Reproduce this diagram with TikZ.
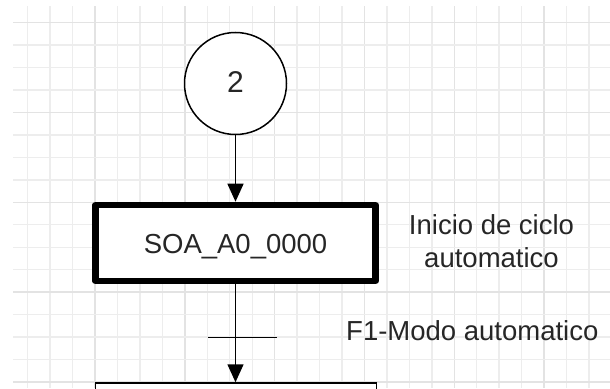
\documentclass[tikz,border=0pt]{standalone}
\usepackage{fontspec}
\setmainfont{Liberation Sans}
\usetikzlibrary{arrows.meta}
\begin{document}
\begin{tikzpicture}[x=1pt,y=-1pt,
  gridminor/.style={draw=black!7,line width=1.4pt},
  gridmajor/.style={draw=black!11,line width=1.4pt},
  label/.style={font=\fontsize{27.5}{33}\selectfont,text=black!85,inner sep=0pt},
  flow/.style={line width=1.5pt,-{Triangle[width=16pt,length=18pt]}},
  connector/.style={draw,circle,line width=1.5pt,minimum size=102pt,inner sep=0pt,fill=white},
  initstep/.style={draw,rectangle,line width=6.6pt,line join=round,minimum width=280pt,minimum height=76pt,inner sep=0pt,fill=white},
  stepbox/.style={draw,rectangle,line width=1.5pt,minimum width=281pt,minimum height=80pt,inner sep=0pt,fill=white},
  bar/.style={line width=1.5pt}]
\useasboundingbox (0,0) rectangle (610,388);
\clip (0,0) rectangle (610,388);
\fill[white] (0,0) rectangle (610,388);
% background grid
\foreach \k in {0,...,25}{
  \pgfmathsetmacro{\gx}{27.7+22.45*\k}
  \pgfmathtruncatemacro{\m}{mod(\k,4)}
  \ifnum\m=3
    \draw[gridmajor] (\gx,6) -- (\gx,388);
  \else
    \draw[gridminor] (\gx,6) -- (\gx,388);
  \fi
}
\foreach \k in {0,...,16}{
  \pgfmathsetmacro{\gy}{22.7+22.45*\k}
  \pgfmathtruncatemacro{\m}{mod(\k,4)}
  \ifnum\m=0
    \draw[gridmajor] (13,\gy) -- (610,\gy);
  \else
    \draw[gridminor] (13,\gy) -- (610,\gy);
  \fi
}
% connector, initial step and next step
\node[connector] (conn) at (235.5,83.5) {};
\node[label,font=\fontsize{30}{36}\selectfont,anchor=base] (connnum) at (235.5,92.3) {2};
\node[initstep] (s0) at (235.5,243) {};
\node[label,anchor=base] (s0txt) at (235.5,253.3) {SOA\_A0\_0000};
\node[stepbox] (s1) at (236,423) {};
% step comment and transition condition
\node[label,align=center,anchor=base] (comment) at (491.5,267.3) {Inicio de ciclo\\automatico};
\node[label,anchor=base west] (cond) at (346,340) {F1-Modo automatico};
% links
\draw[flow] (conn.south) -- (conn.south |- s0.north);
\draw[flow] (s0.south) -- (s0.south |- s1.north);
% transition bar
\coordinate (barL) at (208,337.3);
\coordinate (barR) at (277,337.3);
\draw[bar] (barL) -- (barR);
\end{tikzpicture}
\end{document}
